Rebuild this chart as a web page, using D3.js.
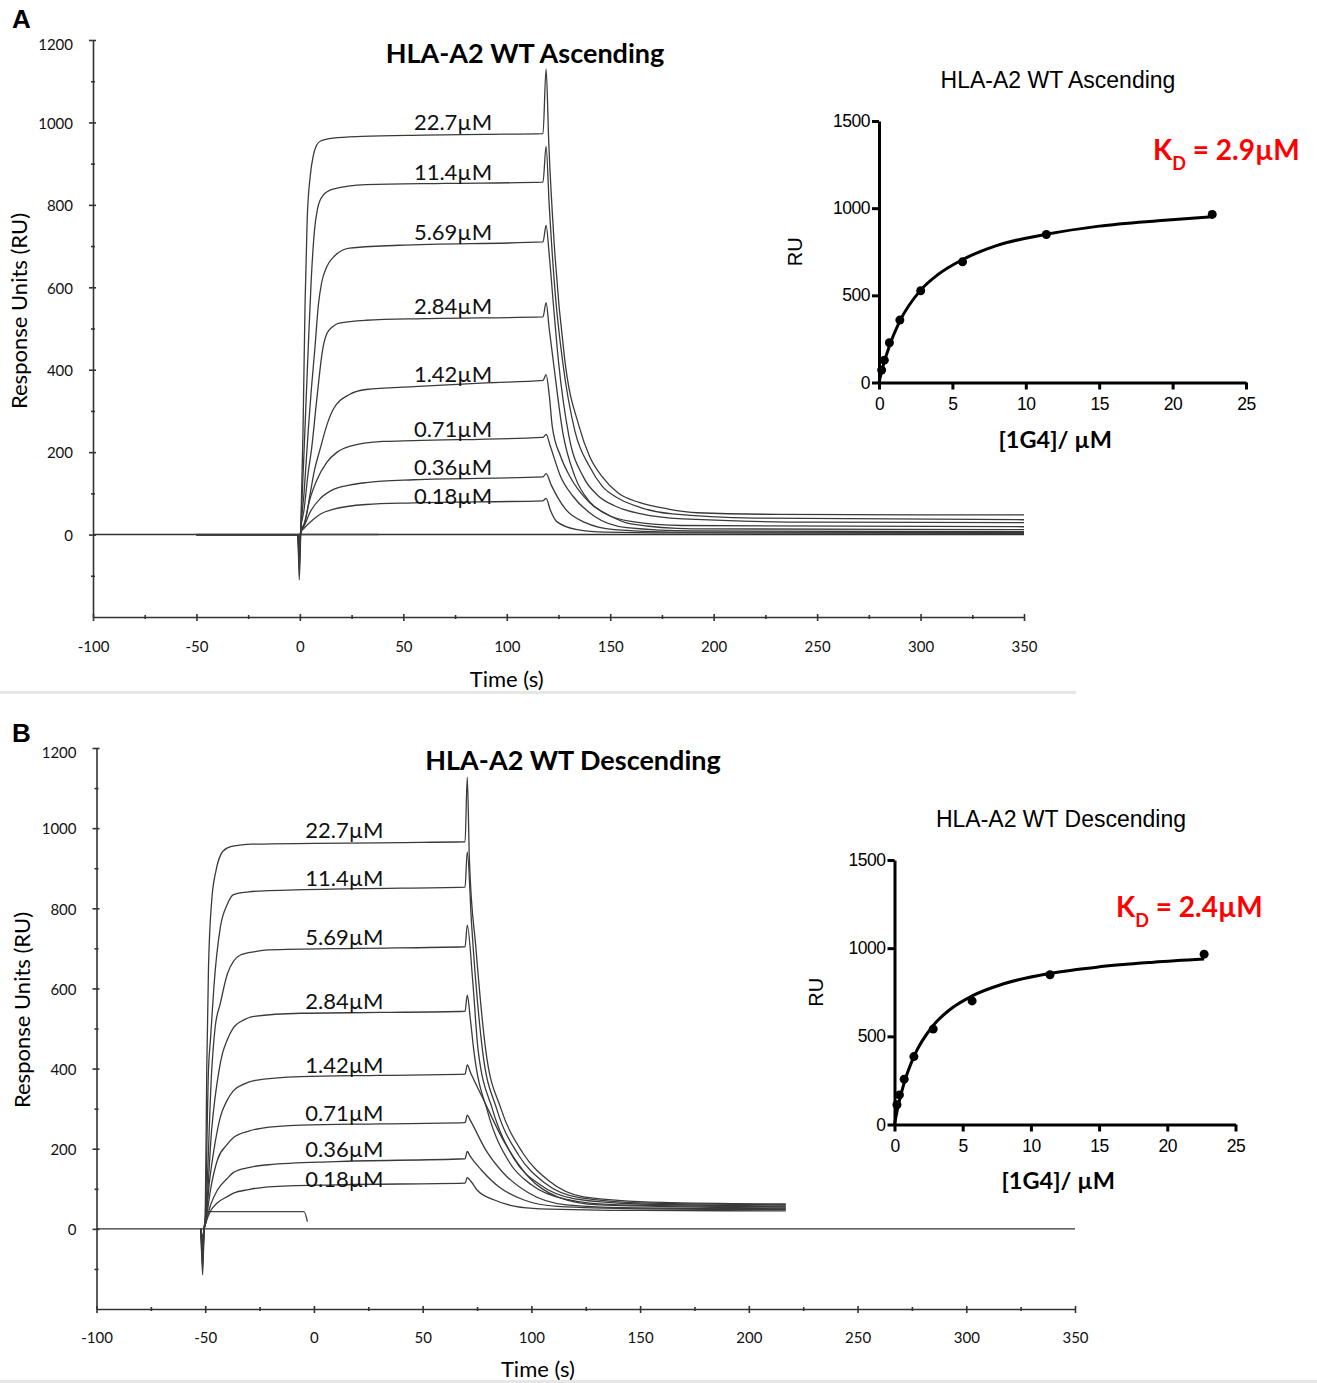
<!DOCTYPE html>
<html>
<head>
    <meta charset="utf-8" />
    <style>
        body {
            margin: 0;
            background-color: white;
        }
    </style>
    <script src="https://cdn.jsdelivr.net/npm/d3@7"></script>
</head>
<body>
<script>
    // ---- data ----
    var concLabels = ["22.7µM", "11.4µM", "5.69µM", "2.84µM", "1.42µM", "0.71µM", "0.36µM", "0.18µM"];
    var conc = [22.7, 11.4, 5.69, 2.84, 1.42, 0.71, 0.36, 0.18];

    var timeTicks = [-100, -50, 0, 50, 100, 150, 200, 250, 300, 350];
    var timeMinor = [-75, -25, 25, 75, 125, 175, 225, 275, 325];
    var ruTicks = [0, 200, 400, 600, 800, 1000, 1200];
    var ruMinor = [-100, 100, 300, 500, 700, 900, 1100];
    var concTicks = [0, 5, 10, 15, 20, 25];
    var fitTicks = [0, 500, 1000, 1500];

    var zeroLine = [[-100, 0], [350, 0]];

    // ascending run, [time s, RU]
    var ascTraces = [
        [[-50, 0], [-1, 0], [-0.3, -110], [0.4, 5], [1.5, 250], [2.5, 560], [3.5, 760], [5, 870], [6.5, 920], [8, 944], [10, 955], [16, 962], [30, 966], [60, 969], [90, 971], [117.5, 973], [119, 1130], [120.3, 950], [123, 700], [128, 425], [135, 262], [140, 190], [146, 141], [154, 100], [164, 78], [178, 62], [192, 53], [232, 49], [300, 48], [350, 48]],
        [[-50, 0], [-1, 0], [-0.3, -85], [0.4, 10], [2, 200], [4, 449], [5.5, 620], [7, 735], [8.5, 790], [11, 822], [16, 838], [32, 849], [70, 852], [117.5, 855], [119, 942], [120.5, 800], [123.5, 580], [127, 420], [133, 250], [140, 165], [146, 118], [155, 85], [165, 65], [180, 50], [220, 40], [350, 36]],
        [[-50, 0], [-1, 0], [-0.3, -65], [0.4, 10], [2, 100], [4, 250], [5.5, 350], [7.2, 449], [9, 560], [10.5, 611], [13, 650], [16, 672], [24, 695], [48, 702], [117.5, 710], [119, 750], [120.5, 680], [122.5, 560], [125, 420], [130, 240], [137, 140], [144, 95], [152, 70], [165, 50], [185, 38], [250, 30], [350, 29]],
        [[-50, 0], [-1, 0], [-0.3, -50], [0.4, 10], [2, 60], [4, 150], [5.6, 206], [8, 320], [11, 449], [13, 487], [16, 505], [19, 513], [32, 520], [60, 524], [117.5, 528], [119, 563], [120.5, 500], [122.5, 420], [127, 250], [133, 140], [140, 80], [148, 50], [160, 32], [185, 22], [350, 19]],
        [[-50, 0], [-1, 0], [-0.3, -45], [0.4, 8], [2.4, 29], [5, 100], [7, 155], [9.7, 206], [13, 265], [16, 303], [24, 340], [32, 352], [55, 359], [90, 368], [117.5, 374], [119, 388], [120.5, 340], [122, 262], [126, 190], [130.5, 141], [140, 78], [150, 45], [160, 26], [190, 14], [350, 12]],
        [[-50, 0], [-1, 0], [-0.3, -30], [0.4, 5], [2, 25], [4.8, 85], [8, 130], [13, 175], [18, 200], [24, 214], [40, 226], [55, 228], [117.5, 236], [119, 243], [121, 215], [126, 141], [132, 93], [142.5, 44], [158, 17], [190, 9], [350, 7]],
        [[-50, 0], [-1, 0], [-0.3, -20], [0.4, 5], [2, 20], [4.8, 53], [10, 88], [16, 109], [24, 120], [32, 126], [55, 133], [117.5, 140], [119, 148], [121.5, 120], [128.5, 61], [138, 29], [152, 12], [180, 6], [350, 5]],
        [[-50, 0], [-1, 0], [-0.3, -10], [0.4, 5], [2, 15], [6.3, 36], [10, 50], [16, 61], [32, 73], [55, 77], [117.5, 82], [119, 88], [121, 60], [124, 32], [134, 12], [148, 6], [180, 4], [350, 3]]
    ];
    var ascBlank = [[-50, 0], [38, 0]];

    // descending run, [time s, RU]
    var descTraces = [
        [[-52, 0], [-51.2, -115], [-50.5, 0], [-50, 30], [-49.3, 397], [-48.5, 650], [-47, 820], [-45, 895], [-43, 932], [-40, 950], [-35, 957], [-29, 960], [0, 962], [40, 964], [69.5, 966], [70.5, 1127], [71.5, 920], [74.5, 700], [79, 446], [86, 300], [96, 190], [108, 120], [124, 80], [160, 66], [217, 62]],
        [[-52, 0], [-51.2, -95], [-50.5, 0], [-50, 25], [-48.5, 397], [-47.5, 479], [-46, 605], [-43, 754], [-40, 808], [-37, 834], [-30, 841], [-21, 844], [20, 849], [69.5, 853], [70.5, 941], [72.5, 760], [77.5, 446], [84, 300], [94, 185], [106, 115], [122, 78], [155, 64], [217, 60]],
        [[-52, 0], [-51.2, -70], [-50.5, 0], [-50, 20], [-47, 397], [-45.5, 500], [-43, 564], [-39.7, 638], [-33.6, 684], [-27, 692], [-21, 696], [20, 700], [69.5, 704], [70.5, 758], [73, 620], [75.5, 446], [82, 300], [92, 175], [104, 110], [120, 75], [150, 62], [217, 57]],
        [[-52, 0], [-51.2, -60], [-50.5, 0], [-50, 15], [-47, 250], [-43.6, 397], [-42, 439], [-40, 470], [-37, 502], [-32, 522], [-27.6, 530], [-6, 538], [30, 540], [69.5, 543], [70.5, 583], [72, 520], [73.5, 446], [80, 290], [90, 165], [100, 110], [115, 75], [140, 60], [217, 55]],
        [[-52, 0], [-51.2, -50], [-50.5, 0], [-50, 10], [-48, 120], [-46, 197], [-43, 280], [-40, 320], [-37, 345], [-32, 362], [-27.6, 370], [-6, 380], [30, 383], [69.5, 386], [70.5, 409], [72, 390], [78, 322], [87, 222], [98.6, 130], [112, 80], [131, 60], [217, 52]],
        [[-52, 0], [-51.2, -40], [-50.5, 0], [-50, 10], [-47.5, 100], [-44.4, 172], [-40, 210], [-37, 228], [-30, 244], [-24.4, 251], [-6, 259], [30, 262], [69.5, 265], [70.5, 284], [72, 270], [79, 197], [87, 140], [98.6, 90], [116, 60], [150, 52], [217, 50]],
        [[-52, 0], [-51.2, -30], [-50.5, 0], [-50, 10], [-47.5, 60], [-44.4, 97], [-40, 125], [-37, 141], [-30, 153], [-21, 160], [10, 168], [69.5, 175], [70.5, 193], [72, 180], [77, 147], [85, 105], [96.6, 72], [112, 56], [150, 50], [217, 48]],
        [[-52, 0], [-51.2, -20], [-50.5, 0], [-50, 10], [-47.5, 45], [-44.4, 65], [-40, 80], [-37, 89], [-30, 98], [-21, 105], [10, 110], [69.5, 114], [70.5, 128], [72, 120], [75, 97], [83, 72], [92.6, 56], [104, 50], [150, 46], [217, 45]]
    ];
    var descBlank = [[-49.5, 43], [-4.6, 43], [-3, 18]];

    // steady-state fits, RU per concentration (same order as conc)
    var ascRU = [964, 849, 692, 526, 358, 228, 128, 71];
    var descRU = [966, 849, 701, 541, 385, 257, 168, 112];
    var ascFit = [[0, 0], [0.18, 63], [0.36, 118], [0.71, 210], [1.42, 352], [2.84, 530], [4, 618], [5.69, 705], [8, 785], [11.4, 850], [15, 897], [19, 928], [22.7, 951]];
    var descFit = [[0, 0], [0.18, 72], [0.36, 135], [0.71, 237], [1.42, 385], [2.84, 562], [4, 648], [5.69, 729], [8, 798], [11.4, 857], [15, 894], [19, 920], [22.7, 938]];
    var kdAsc = " = 2.9µM";
    var kdDesc = " = 2.4µM";

    // ---- drawing ----
    var svg = d3.select("body").append("svg")
        .attr("width", 1317)
        .attr("height", 1383);

    var mainFont = "Lato, 'Open Sans', sans-serif";
    var arialFont = "'Liberation Sans', Arial, sans-serif";

    function levelAt(trace, t) {
        for (var i = 1; i < trace.length; i++) {
            if (trace[i][0] >= t) {
                var a = trace[i - 1], b = trace[i];
                return a[1] + (b[1] - a[1]) * (t - a[0]) / (b[0] - a[0]);
            }
        }
        return trace[trace.length - 1][1];
    }

    function drawSensorgram(o) {
        var x = d3.scaleLinear().domain([-100, 350]).range(o.xRange);
        var y = d3.scaleLinear().domain([-200, 1200]).range(o.yRange);
        var g = svg.append("g");

        var line = d3.line()
            .x(function (d) { return x(d[0]); })
            .y(function (d) { return y(d[1]); })
            .curve(d3.curveMonotoneX);

        // axes
        var xAxis = g.append("g")
            .attr("transform", "translate(0," + y(-200) + ")")
            .call(d3.axisBottom(x).tickValues(timeTicks).tickSize(4).tickSizeOuter(0).tickPadding(o.xPad)
                .tickFormat(function (d) { return String(d); }));
        xAxis.selectAll(".tick line").attr("y1", -3);
        var xMinor = g.append("g")
            .attr("transform", "translate(0," + y(-200) + ")")
            .call(d3.axisBottom(x).tickValues(timeMinor).tickSize(2).tickFormat(""));
        xMinor.select(".domain").remove();
        xMinor.selectAll(".tick line").attr("y1", -2);

        var yAxis = g.append("g")
            .attr("transform", "translate(" + x(-100) + ",0)")
            .call(d3.axisLeft(y).tickValues(ruTicks).tickSize(4).tickSizeOuter(0).tickPadding(16)
                .tickFormat(function (d) { return String(d); }));
        yAxis.selectAll(".tick line").attr("x1", 3);
        yAxis.selectAll(".tick text").attr("dy", "0.32em").attr("y", function (d) { return d === 1200 ? 5 : 1; });
        var yMinor = g.append("g")
            .attr("transform", "translate(" + x(-100) + ",0)")
            .call(d3.axisLeft(y).tickValues(ruMinor).tickSize(2).tickFormat(""));
        yMinor.select(".domain").remove();
        yMinor.selectAll(".tick line").attr("x1", 2);

        [xAxis, yAxis, xMinor, yMinor].forEach(function (a) {
            a.attr("font-family", mainFont).attr("font-size", 15);
            a.selectAll("path, line").attr("stroke", "#333").attr("stroke-width", 1.6);
            a.selectAll("text").attr("fill", "#111");
        });

        // zero reference and blank
        g.append("path").datum(zeroLine).attr("d", line)
            .attr("fill", "none").attr("stroke", "#333").attr("stroke-width", 1.4);
        g.append("path").datum(o.blank).attr("d", line)
            .attr("fill", "none").attr("stroke", "#444").attr("stroke-width", 1.4);

        // traces
        g.selectAll(".trace").data(o.traces).enter().append("path")
            .attr("class", "trace")
            .attr("d", line)
            .attr("fill", "none")
            .attr("stroke", "#3a3a3a")
            .attr("stroke-width", 1.3);

        // concentration labels
        g.selectAll(".clabel").data(o.traces).enter().append("text")
            .attr("class", "clabel")
            .attr("x", x(o.labelT))
            .attr("y", function (d, i) { return y(levelAt(d, o.labelT)) + o.labelDy[i]; })
            .attr("text-anchor", "middle")
            .attr("font-family", mainFont)
            .attr("font-size", 22)
            .attr("fill", "#111")
            .text(function (d, i) { return concLabels[i]; });

        // titles
        g.append("text")
            .attr("x", o.titleX).attr("y", o.titleY)
            .attr("text-anchor", "middle")
            .attr("font-family", mainFont).attr("font-weight", "bold").attr("font-size", 27)
            .text(o.title);
        g.append("text")
            .attr("transform", "translate(" + o.yLabelX + "," + o.yLabelY + ") rotate(-90)")
            .attr("text-anchor", "middle")
            .attr("font-family", mainFont).attr("font-size", 22)
            .text("Response Units (RU)");
        g.append("text")
            .attr("x", x(o.timeLabelT)).attr("y", o.timeLabelY)
            .attr("text-anchor", "middle")
            .attr("font-family", mainFont).attr("font-size", 22)
            .text("Time (s)");
        g.append("text")
            .attr("x", 12).attr("y", o.letterY)
            .attr("font-family", arialFont).attr("font-weight", "bold").attr("font-size", 26)
            .text(o.letter);
    }

    function drawInset(o) {
        var x = d3.scaleLinear().domain([0, 25]).range(o.xRange);
        var y = d3.scaleLinear().domain([0, 1500]).range(o.yRange);
        var g = svg.append("g");

        var xAxis = g.append("g")
            .attr("transform", "translate(0," + y(0) + ")")
            .call(d3.axisBottom(x).tickValues(concTicks).tickSize(7).tickSizeOuter(0).tickPadding(8)
                .tickFormat(function (d) { return String(d); }));
        var yAxis = g.append("g")
            .attr("transform", "translate(" + x(0) + ",0)")
            .call(d3.axisLeft(y).tickValues(fitTicks).tickSize(7).tickSizeOuter(0).tickPadding(2)
                .tickFormat(function (d) { return String(d); }));
        [xAxis, yAxis].forEach(function (a) {
            a.attr("font-family", arialFont).attr("font-size", 17.5);
            a.selectAll("path, line").attr("stroke", "#000").attr("stroke-width", 3);
            a.selectAll("text").attr("fill", "#000").attr("letter-spacing", -0.5);
        });

        var line = d3.line()
            .x(function (d) { return x(d[0]); })
            .y(function (d) { return y(d[1]); })
            .curve(d3.curveMonotoneX);
        g.append("path").datum(o.fit).attr("d", line)
            .attr("fill", "none").attr("stroke", "#000").attr("stroke-width", 3);

        g.selectAll("circle").data(o.values).enter().append("circle")
            .attr("cx", function (d, i) { return x(conc[i]); })
            .attr("cy", function (d) { return y(d); })
            .attr("r", 4.5)
            .attr("fill", "#000");

        g.append("text")
            .attr("x", o.titleX).attr("y", o.titleY)
            .attr("text-anchor", "middle")
            .attr("font-family", arialFont).attr("font-size", 23)
            .text(o.title);
        g.append("text")
            .attr("transform", "translate(" + o.ruX + "," + y(750) + ") rotate(-90)")
            .attr("text-anchor", "middle")
            .attr("font-family", arialFont).attr("font-size", 20)
            .text("RU");
        g.append("text")
            .attr("x", x(12)).attr("y", o.xLabelY)
            .attr("text-anchor", "middle")
            .attr("font-family", mainFont).attr("font-weight", "bold").attr("font-size", 23.5)
            .text("[1G4]/ µM");

        var kd = g.append("text")
            .attr("x", o.kdX).attr("y", o.kdY)
            .attr("font-family", mainFont).attr("font-weight", "bold").attr("font-size", 28)
            .attr("fill", "#ff0000");
        kd.append("tspan").text("K");
        kd.append("tspan").attr("dy", 10).attr("font-size", 18).text("D");
        kd.append("tspan").attr("dy", -10).text(o.kd);
    }

    drawSensorgram({
        xRange: [93, 1024], yRange: [617, 40], xPad: 20,
        traces: ascTraces, blank: ascBlank, labelT: 74,
        labelDy: [-5, -3, -4, -4, -3, -3, -4, 2],
        title: "HLA-A2 WT Ascending", titleX: 525, titleY: 63,
        yLabelX: 27, yLabelY: 311, timeLabelT: 100, timeLabelY: 687,
        letter: "A", letterY: 28
    });
    drawSensorgram({
        xRange: [96.5, 1075], yRange: [1309, 748], xPad: 19,
        traces: descTraces, blank: descBlank, labelT: 14,
        labelDy: [-5, -3, -4, -4, -3, -3, -4, 2],
        title: "HLA-A2 WT Descending", titleX: 573, titleY: 770,
        yLabelX: 30, yLabelY: 1010, timeLabelT: 103, timeLabelY: 1377,
        letter: "B", letterY: 742
    });

    drawInset({
        xRange: [879, 1246], yRange: [382.5, 121], values: ascRU, fit: ascFit,
        title: "HLA-A2 WT Ascending", titleX: 1058, titleY: 88,
        ruX: 802, xLabelY: 448, kdX: 1153, kdY: 160, kd: kdAsc
    });
    drawInset({
        xRange: [894.5, 1235.5], yRange: [1124.5, 860], values: descRU, fit: descFit,
        title: "HLA-A2 WT Descending", titleX: 1061, titleY: 827,
        ruX: 823, xLabelY: 1189, kdX: 1116, kdY: 917, kd: kdDesc
    });

    // light separators between the panels
    svg.append("rect").attr("x", 0).attr("y", 691).attr("width", 1076).attr("height", 3).attr("fill", "#e6e6e6");
    svg.append("rect").attr("x", 0).attr("y", 1380).attr("width", 1317).attr("height", 3).attr("fill", "#e6e6e6");
</script>
</body>
</html>
